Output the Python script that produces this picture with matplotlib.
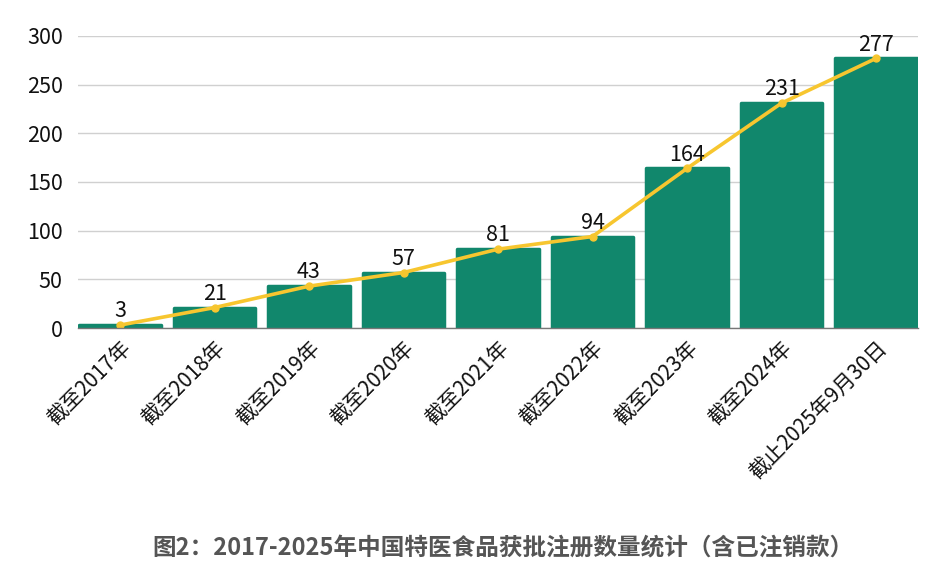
import matplotlib
matplotlib.use("Agg")
import matplotlib.pyplot as plt

plt.rcParams['font.family'] = ['Noto Sans CJK SC', 'DejaVu Sans']

categories = ['截至2017年', '截至2018年', '截至2019年', '截至2020年', '截至2021年',
              '截至2022年', '截至2023年', '截至2024年', '截止2025年9月30日']
counts = [3, 21, 43, 57, 81, 94, 164, 231, 277]
title = '图2：2017-2025年中国特医食品获批注册数量统计（含已注销款）'

bar_color = '#11876c'
line_color = '#f7c62f'

fig = plt.figure(figsize=(9.33, 5.85), dpi=100)
ax = fig.add_axes([0.0836, 0.4393, 0.9004, 0.4992])

x = list(range(len(categories)))
# edge with round joins gives the slightly rounded bar corners
bars = ax.bar(x, counts, width=0.86, color=bar_color, edgecolor=bar_color,
              lw=2.5, zorder=2)
for b in bars:
    b.set_joinstyle('round')
ax.plot(x, counts, color=line_color, lw=2.6, marker='o', ms=5, zorder=3)

for xi, v in zip(x, counts):
    ax.annotate(str(v), (xi, v), xytext=(0, 2), textcoords='offset points',
                ha='center', va='bottom', fontsize=15.5, color='#111111', zorder=4)

ax.set_xlim(-0.445, len(categories) - 1 + 0.445)
ax.set_ylim(0, 300)
ax.set_yticks(range(0, 301, 50))
ax.grid(axis='y', color='#d0d0d0', lw=1, zorder=0)
ax.set_axisbelow(True)

for s in ['top', 'right', 'left']:
    ax.spines[s].set_visible(False)
ax.spines['bottom'].set_color('#777777')
ax.spines['bottom'].set_linewidth(1)
ax.spines['bottom'].set_zorder(5)

ax.tick_params(axis='y', length=0, labelsize=15.5, pad=11, labelcolor='#111111')
ax.tick_params(axis='x', length=0, labelsize=15, pad=7, labelcolor='#111111')
ax.set_xticks(x)
ax.set_xticklabels(categories, rotation=45, ha='right', rotation_mode='anchor')

fig.text(0.539, 0.063, title, ha='center', va='center', fontsize=17,
         fontweight='bold', color='#555555')

fig.savefig('out.png', dpi=100)
